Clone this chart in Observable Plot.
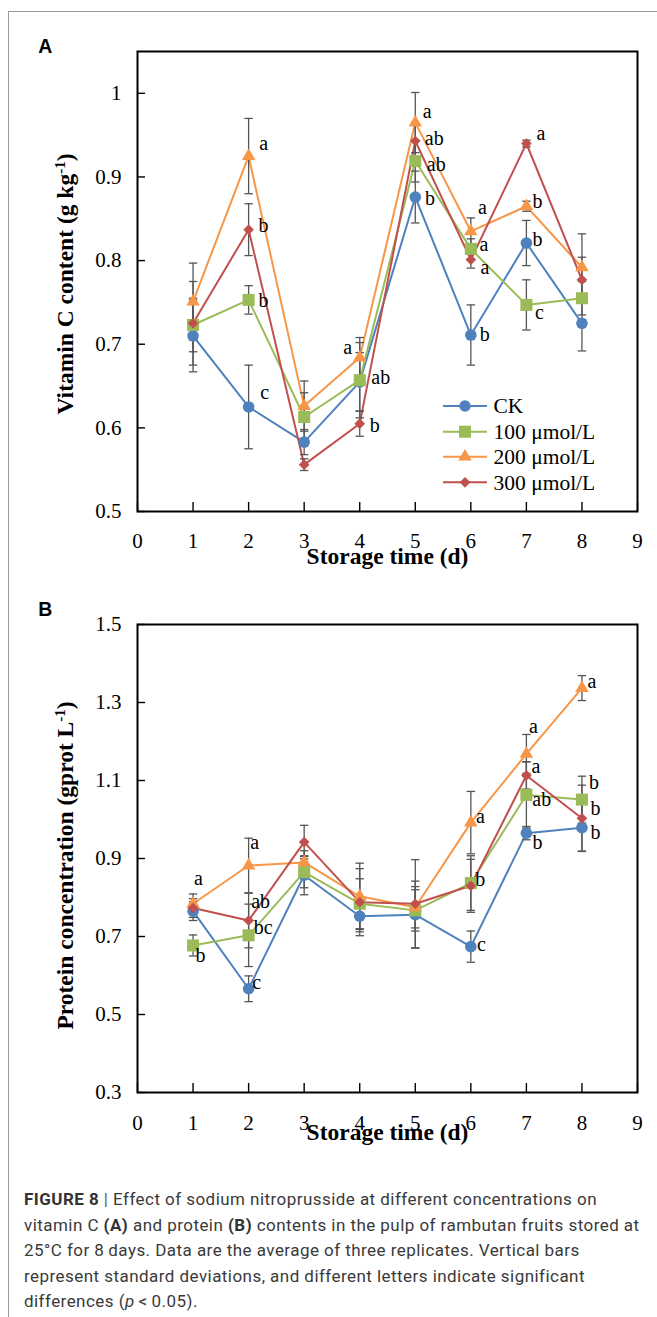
<!DOCTYPE html>
<html><head><meta charset="utf-8">
<script src="https://cdn.jsdelivr.net/npm/d3@7"></script>
<script src="https://cdn.jsdelivr.net/npm/@observablehq/plot@0.6"></script>
<style>
html,body{margin:0;padding:0;background:#fff;}
#page{position:relative;width:657px;height:1317px;overflow:hidden;background:#fff;}
#border{position:absolute;left:8px;top:11px;right:-2px;bottom:-2px;border-left:1px solid #9a9a9a;border-top:1px solid #9a9a9a;}
.abs{position:absolute;left:0;}
#caption{position:absolute;left:24px;top:1187px;font-family:Roboto,sans-serif;font-size:17px;letter-spacing:0.45px;line-height:25.5px;color:#3a3a3a;white-space:nowrap;}
#caption b{color:#333;}
</style></head><body><div id="page"><div id="border"></div></div>
<script>
// ---------- data ----------
const days = [1, 2, 3, 4, 5, 6, 7, 8];
const seriesNames = ["CK", "100 μmol/L", "200 μmol/L", "300 μmol/L"];
const xTicks = [0, 1, 2, 3, 4, 5, 6, 7, 8, 9];

// Panel A: vitamin C content (g kg-1)
const vitC_CK  = [0.710, 0.625, 0.583, 0.655, 0.876, 0.711, 0.821, 0.725];
const vitC_100 = [0.723, 0.753, 0.613, 0.657, 0.919, 0.814, 0.747, 0.755];
const vitC_200 = [0.751, 0.925, 0.626, 0.684, 0.965, 0.835, 0.865, 0.792];
const vitC_300 = [0.725, 0.837, 0.556, 0.605, 0.943, 0.801, 0.940, 0.777];
const vitSD_CK  = [0.043, 0.050, 0.015, 0.035, 0.031, 0.036, 0.027, 0.033];
const vitSD_100 = [0.032, 0.017, 0.029, 0.045, 0.025, 0.012, 0.030, 0.020];
const vitSD_200 = [0.046, 0.045, 0.030, 0.024, 0.036, 0.016, 0.006, 0.040];
const vitSD_300 = [0.050, 0.031, 0.007, 0.015, 0.020, 0.010, 0.004, 0.027];
const vitTicks = [0.5, 0.6, 0.7, 0.8, 0.9, 1.0];
const vitDomain = [0.5, 1.05];
// significance letters: series index, day, letter
const lettersA = [
  {s: 2, d: 2, t: "a"}, {s: 3, d: 2, t: "b"}, {s: 1, d: 2, t: "b"}, {s: 0, d: 2, t: "c"},
  {s: 2, d: 4, t: "a"}, {s: 1, d: 4, t: "ab"}, {s: 3, d: 4, t: "b"},
  {s: 2, d: 5, t: "a"}, {s: 3, d: 5, t: "ab"}, {s: 1, d: 5, t: "ab"}, {s: 0, d: 5, t: "b"},
  {s: 2, d: 6, t: "a"}, {s: 1, d: 6, t: "a"}, {s: 3, d: 6, t: "a"}, {s: 0, d: 6, t: "b"},
  {s: 3, d: 7, t: "a"}, {s: 2, d: 7, t: "b"}, {s: 0, d: 7, t: "b"}, {s: 1, d: 7, t: "c"}
];

// Panel B: protein concentration (gprot L-1)
const pro_CK  = [0.765, 0.566, 0.857, 0.752, 0.756, 0.674, 0.965, 0.979];
const pro_100 = [0.677, 0.703, 0.865, 0.784, 0.767, 0.837, 1.063, 1.051];
const pro_200 = [0.784, 0.882, 0.890, 0.803, 0.775, 0.992, 1.168, 1.337];
const pro_300 = [0.773, 0.741, 0.942, 0.788, 0.784, 0.830, 1.113, 1.003];
const proSD_CK  = [0.024, 0.033, 0.050, 0.040, 0.086, 0.040, 0.017, 0.060];
const proSD_100 = [0.027, 0.080, 0.040, 0.064, 0.053, 0.070, 0.085, 0.060];
const proSD_200 = [0.025, 0.070, 0.030, 0.085, 0.053, 0.080, 0.050, 0.032];
const proSD_300 = [0.024, 0.070, 0.043, 0.086, 0.113, 0.068, 0.035, 0.085];
const proTicks = [0.3, 0.5, 0.7, 0.9, 1.1, 1.3, 1.5];
const proDomain = [0.3, 1.5];
const lettersB = [
  {s: 2, d: 1, t: "a"}, {s: 1, d: 1, t: "b"},
  {s: 2, d: 2, t: "a"}, {s: 3, d: 2, t: "ab"}, {s: 1, d: 2, t: "bc"}, {s: 0, d: 2, t: "c"},
  {s: 2, d: 6, t: "a"}, {s: 1, d: 6, t: "b"}, {s: 0, d: 6, t: "c"},
  {s: 2, d: 7, t: "a"}, {s: 3, d: 7, t: "a"}, {s: 1, d: 7, t: "ab"}, {s: 0, d: 7, t: "b"},
  {s: 2, d: 8, t: "a"}, {s: 1, d: 8, t: "b"}, {s: 3, d: 8, t: "b"}, {s: 0, d: 8, t: "b"}
];

// ---------- layout / style (not data) ----------
const colors = ["#4F81BD", "#9BBB59", "#F79646", "#C0504D"];
const symbols = ["circle", "square", "triangle", "diamond2"];
const radii = [5.8, 6.8, 5.0, 4.8];
const nudgeA = [[15,-11],[15,-3],[15,2],[16,-13],[-12,-9],[21,-2],[15,3],[12,-10],[19,-1.5],[21,5],[14.6,2.5],[11.5,-22.5],[13,-3],[14,9],[14,0.5],[14.5,-9],[11,-4],[11,-2],[13,9]];
const nudgeB = [[5.5,-24],[7.5,11],[6,-22],[12,-18],[14.6,-6.5],[8,-5],[9.5,-5.5],[9.5,-2.6],[10.7,-1],[7,-26],[9.5,-8],[15.4,5.6],[11,10.6],[10,-5],[12,-16],[13.5,-9],[13.5,6]];
const errColor = "#555555";
const capSymbol = {draw(ctx) { ctx.moveTo(-4.2, 0); ctx.lineTo(4.2, 0); }};
const ML = 137, MR = 20, W = 657;

function panel(cfg) {
  const rows = [];
  cfg.values.forEach((vals, s) => days.forEach((d, i) => rows.push({s, day: d, v: vals[i], sd: cfg.sds[s][i]})));
  const get = (s, d) => rows.find(r => r.s === s && r.day === d);
  const frameW = W - ML - MR, frameH = cfg.height - cfg.marginTop - cfg.marginBottom;
  const marks = [
    Plot.tickX(xTicks, {x: d => d, insetTop: frameH - 9, stroke: "#000", strokeWidth: 1.4}),
    Plot.tickY(cfg.yTicks, {y: d => d, insetRight: frameW - 8, stroke: "#000", strokeWidth: 1.4}),
    Plot.axisX(xTicks, {tickSize: 0, tickPadding: cfg.xPad, tickFormat: d => String(d), fontSize: 21, label: null}),
    Plot.axisY(cfg.yTicks, {tickSize: 0, tickPadding: 16, tickFormat: d => String(+d.toFixed(1)), fontSize: 21, label: null}),
    Plot.line(rows, {x: "day", y: "v", z: "s", stroke: d => colors[d.s], strokeWidth: 2}),
    Plot.ruleX(rows, {x: "day", y1: d => d.v - d.sd, y2: d => d.v + d.sd, stroke: errColor, strokeWidth: 1.3}),
    Plot.dot(rows, {x: "day", y: d => d.v - d.sd, symbol: capSymbol, fill: "none", stroke: errColor, strokeWidth: 1.3}),
    Plot.dot(rows, {x: "day", y: d => d.v + d.sd, symbol: capSymbol, fill: "none", stroke: errColor, strokeWidth: 1.3}),
    ...colors.map((c, s) => Plot.dot(rows.filter(r => r.s === s), {x: "day", y: "v", symbol: symbols[s], r: radii[s], fill: c, stroke: "none"})),
    ...cfg.letters.map((L, i) => Plot.text([get(L.s, L.d)], {x: "day", y: "v", text: () => L.t, dx: cfg.nudges[i][0], dy: cfg.nudges[i][1] - 1, fontSize: 20, fill: "#000"})),
    Plot.text([cfg.xTitle], {text: d => d, frameAnchor: "bottom", textAnchor: "middle", dy: cfg.xTitleDy, fontWeight: "bold", fontSize: 23.5, fill: "#000"}),
    Plot.text([cfg.yTitle], {text: d => d, frameAnchor: "left", textAnchor: "middle", rotate: -90, dx: -72, dy: cfg.yTitleDy, fontWeight: "bold", fontSize: 23.5, fill: "#000"}),
    Plot.text([cfg.tag], {text: d => d, frameAnchor: "top-left", textAnchor: "start", lineAnchor: "bottom", dx: 37.7 - ML, dy: cfg.tagDy, fontFamily: "Liberation Sans", fontWeight: "bold", fontSize: 19.5, fill: "#000"}),
    Plot.frame({stroke: "#000", strokeWidth: 2})
  ];
  const svg = Plot.plot({
    width: W, height: cfg.height,
    marginLeft: ML, marginRight: MR, marginTop: cfg.marginTop, marginBottom: cfg.marginBottom,
    x: {domain: [0, 9], label: null}, y: {domain: cfg.yDomain, label: null},
    style: {background: "transparent", fontFamily: "Liberation Serif", fontSize: "21px", color: "#000", overflow: "visible"},
    marks
  });
  // superscript for the unit
  d3.select(svg).selectAll("text").each(function() {
    const t = this.textContent;
    if (t === cfg.yTitle) {
      const base = t.replace(/-1\)$/, "");
      const sel = d3.select(this);
      sel.text(null);
      sel.append("tspan").text(base);
      sel.append("tspan").attr("dy", -8.5).attr("font-size", 15).text("-1");
      sel.append("tspan").attr("dy", 8.5).text(")");
    }
  });
  return svg;
}

const page = document.getElementById("page");

const svgA = panel({
  values: [vitC_CK, vitC_100, vitC_200, vitC_300],
  sds: [vitSD_CK, vitSD_100, vitSD_200, vitSD_300],
  letters: lettersA, nudges: nudgeA,
  yDomain: vitDomain, yTicks: vitTicks,
  height: 580, marginTop: 51, marginBottom: 69,
  xPad: 22, xTitleDy: 52, yTitleDy: 2.5,
  xTitle: "Storage time (d)", yTitle: "Vitamin C content (g kg-1)",
  tag: "A", tagDy: 1.3
});
svgA.classList.add("abs"); svgA.style.top = "0px";
page.appendChild(svgA);

const svgB = panel({
  values: [pro_CK, pro_100, pro_200, pro_300],
  sds: [proSD_CK, proSD_100, proSD_200, proSD_300],
  letters: lettersB, nudges: nudgeB,
  yDomain: proDomain, yTicks: proTicks,
  height: 590, marginTop: 44, marginBottom: 78,
  xPad: 23, xTitleDy: 47, yTitleDy: 7,
  xTitle: "Storage time (d)", yTitle: "Protein concentration (gprot L-1)",
  tag: "B", tagDy: -9
});
svgB.classList.add("abs"); svgB.style.top = "580px";
page.appendChild(svgB);

// legend for panel A
const leg = d3.select(page).append("svg").attr("class", "abs")
  .style("top", "390px").style("left", "430px").attr("width", 200).attr("height", 110);
const rowY = [16, 41.7, 66.7, 92.3];
seriesNames.forEach((name, s) => {
  const g = leg.append("g").attr("transform", `translate(0,${rowY[s]})`);
  g.append("line").attr("x1", 13).attr("x2", 57).attr("stroke", colors[s]).attr("stroke-width", 2);
  const symType = [d3.symbolCircle, d3.symbolSquare, d3.symbolTriangle, d3.symbolDiamond2][s];
  g.append("path").attr("transform", "translate(35,0)").attr("d", d3.symbol(symType, Math.PI * radii[s] * radii[s])()).attr("fill", colors[s]);
  g.append("text").attr("x", 63.5).attr("y", 7.3).attr("font-family", "Liberation Serif").attr("font-size", 21.5).attr("fill", "#000").text(name);
});

// caption
const cap = document.createElement("div");
cap.id = "caption";
cap.innerHTML = '<b>FIGURE 8</b> <span style="color:#555">|</span> Effect of sodium nitroprusside at different concentrations on<br>' +
  'vitamin C <b>(A)</b> and protein <b>(B)</b> contents in the pulp of rambutan fruits stored at<br>' +
  '25°C for 8&thinsp;days. Data are the average of three replicates. Vertical bars<br>' +
  'represent standard deviations, and different letters indicate significant<br>' +
  'differences (<i>p</i>&thinsp;&lt;&thinsp;0.05).';
page.appendChild(cap);
</script></body></html>
